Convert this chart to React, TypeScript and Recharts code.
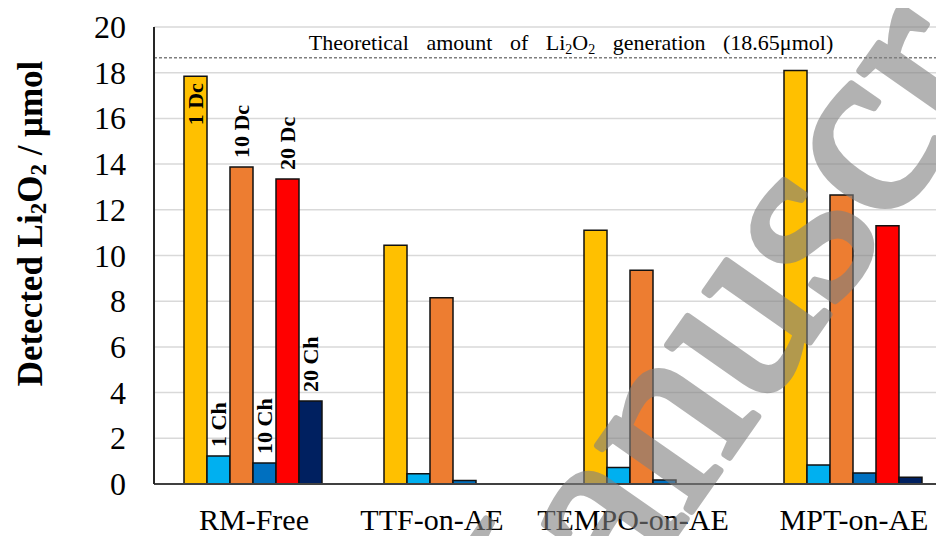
import { BarChart, Bar, XAxis, YAxis, CartesianGrid, ReferenceLine, LabelList } from "recharts";

const categories = ["RM-Free", "TTF-on-AE", "TEMPO-on-AE", "MPT-on-AE"];
const seriesNames = ["1 Dc", "1 Ch", "10 Dc", "10 Ch", "20 Dc", "20 Ch"];
const dc1 = [17.85, 10.45, 11.1, 18.1];
const ch1 = [1.23, 0.45, 0.72, 0.83];
const dc10 = [13.87, 8.15, 9.35, 12.65];
const ch10 = [0.92, 0.15, 0.17, 0.48];
const dc20 = [13.35, null, null, 11.3];
const ch20 = [3.63, null, null, 0.29];
const yTicks = [0, 2, 4, 6, 8, 10, 12, 14, 16, 18, 20];
const theoretical = 18.65;

const seriesValues = [dc1, ch1, dc10, ch10, dc20, ch20];
const COLORS = ["#FFC000", "#00B0F0", "#ED7D31", "#0070C0", "#FF0000", "#002060"];
// which tags sit inside the bar (top end) instead of above it
const INSIDE = [true, false, false, false, false, false];
const TICK_DX = [0, -22, -21, 0];

const serif = { fontFamily: '"Liberation Serif"' };

const data = categories.map((name, i) => {
  const row: Record<string, string | number | null> = { name };
  seriesNames.forEach((s, k) => (row[s] = seriesValues[k][i]));
  return row;
});

function barTag(text: string, inside: boolean) {
  return (props: any) => {
    if (props.index !== 0) return null;
    const { x, y, width } = props;
    const cx = x + width / 2;
    const ty = inside ? y + 7 : y - 9;
    return (
      <text
        x={cx}
        y={ty}
        transform={`rotate(-90 ${cx} ${ty})`}
        textAnchor={inside ? "end" : "start"}
        dominantBaseline="central"
        style={serif}
        fontWeight="bold"
        fontSize={22}
        fill="#000"
      >
        {text}
      </text>
    );
  };
}

function XTick({ x, y, payload, index }: any) {
  return (
    <text x={x + (TICK_DX[index] ?? 0)} y={y + 38} textAnchor="middle" style={serif} fontSize={30} fill="#000">
      {payload.value}
    </text>
  );
}

function YTick({ x, y, payload }: any) {
  return (
    <text x={x} y={y} textAnchor="end" dominantBaseline="central" style={serif} fontSize={32} fill="#000">
      {payload.value}
    </text>
  );
}

function YLabel({ viewBox }: any) {
  const cx = 30;
  const cy = viewBox.y + viewBox.height / 2 - 32;
  return (
    <text
      x={cx}
      y={cy}
      transform={`rotate(-90 ${cx} ${cy})`}
      textAnchor="middle"
      dominantBaseline="central"
      style={serif}
      fontWeight="bold"
      fontSize={35}
      fill="#000"
    >
      Detected Li<tspan fontSize={23} dy={8}>2</tspan>
      <tspan dy={-8}>O</tspan>
      <tspan fontSize={23} dy={8}>2</tspan>
      <tspan dy={-8}> / μmol</tspan>
    </text>
  );
}

function RefLabel({ viewBox }: any) {
  return (
    <text x={viewBox.x + 417} y={viewBox.y - 8} textAnchor="middle" style={serif} fontSize={22} wordSpacing={12} fill="#000">
      Theoretical amount of Li<tspan fontSize={14} dy={4}>2</tspan>
      <tspan dy={-4}>O</tspan>
      <tspan fontSize={14} dy={4}>2</tspan>
      <tspan dy={-4}> generation (18.65μmol)</tspan>
    </text>
  );
}

export default function App() {
  return (
    <div style={{ position: "relative", width: 944, height: 544, margin: -8, overflow: "hidden", background: "#fff" }}>
      <BarChart
        width={960}
        height={544}
        data={data}
        margin={{ top: 27, right: 6, left: 0, bottom: 0 }}
        barCategoryGap="15%"
        barGap={0}
      >
        <CartesianGrid vertical={false} stroke="#d9d9d9" strokeWidth={1.5} />
        <XAxis
          dataKey="name"
          height={60}
          tick={<XTick />}
          tickLine={false}
          axisLine={{ stroke: "#404040", strokeWidth: 2 }}
          interval={0}
        />
        <XAxis
          xAxisId="top"
          dataKey="name"
          orientation="top"
          height={0}
          tick={false}
          tickLine={false}
          axisLine={{ stroke: "#262626", strokeWidth: 2 }}
        />
        <YAxis
          width={154}
          domain={[0, 20]}
          ticks={yTicks}
          interval={0}
          tickLine={false}
          tickSize={0}
          tickMargin={28}
          axisLine={{ stroke: "#262626", strokeWidth: 2 }}
          tick={<YTick />}
          label={<YLabel />}
        />
        <ReferenceLine
          y={theoretical}
          stroke="#7f7f7f"
          strokeWidth={1.5}
          strokeDasharray="3 2"
          label={<RefLabel />}
        />
        {seriesNames.map((s, k) => (
          <Bar key={s} dataKey={s} fill={COLORS[k]} stroke="#111" strokeWidth={1.5} isAnimationActive={false}>
            <LabelList dataKey={s} content={barTag(s, INSIDE[k])} />
          </Bar>
        ))}
      </BarChart>
      {/* watermark laid over the chart */}
      <svg width={944} height={544} style={{ position: "absolute", left: 0, top: 0, pointerEvents: "none" }}>
        <g opacity={0.6}>
          <text
            x={497}
            y={789}
            transform="rotate(-55 497 789)"
            style={serif}
            fontSize={250}
            fill="#808080"
            stroke="#808080"
            strokeWidth={7}
            strokeLinejoin="round"
          >
            Manuscript
          </text>
        </g>
      </svg>
    </div>
  );
}
